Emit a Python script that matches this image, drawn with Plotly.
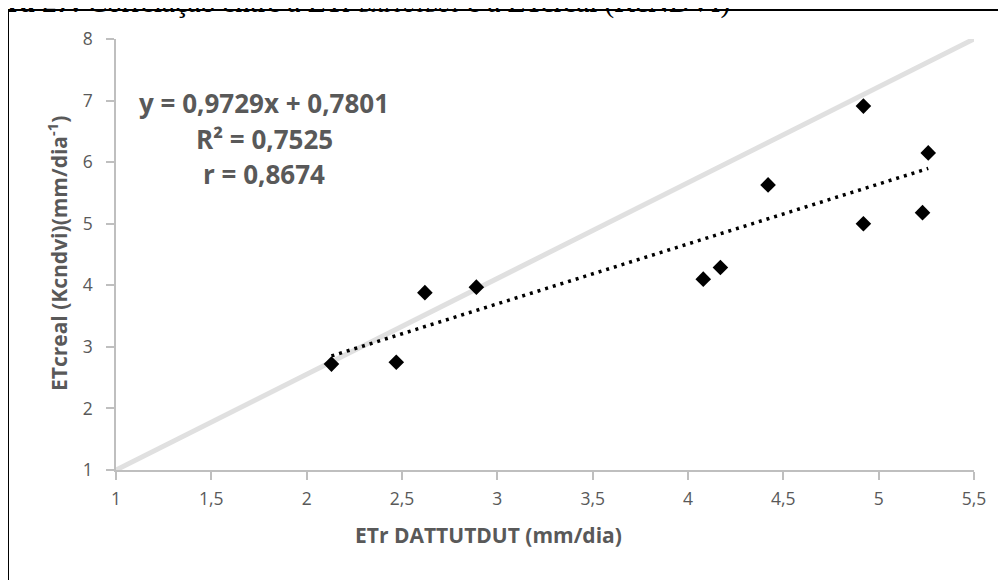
import plotly.graph_objects as go

# ---- data ----
etr_dattutdut = [2.13, 2.47, 2.62, 2.89, 4.08, 4.17, 4.42, 4.92, 4.92, 5.26, 5.23]
etc_real = [2.72, 2.75, 3.88, 3.97, 4.10, 4.29, 5.63, 6.91, 5.00, 6.15, 5.18]
trend_slope = 0.9729
trend_intercept = 0.7801
diag_x = [1, 5.5]
diag_y = [1, 8]
x_ticks = [1, 1.5, 2, 2.5, 3, 3.5, 4, 4.5, 5, 5.5]
y_ticks = [1, 2, 3, 4, 5, 6, 7, 8]
eq_lines = ["y = 0,9729x + 0,7801", "R² = 0,7525", "r = 0,8674"]

# ---- geometry (reference pixel positions; page body adds an 8px offset) ----
OFF = 8
PL, PR, PT, PB = 116, 974, 39, 470      # plot area in window pixels
PW, PH = PR - PL, PB - PT
W, H = 1006 - OFF, 580 - OFF


def px(xpix):
    return (xpix - PL) / PW


def py(ypix):
    return (PB - ypix) / PH


FONT = "Open Sans"
GRAY = "#595959"
AXC = "#bfbfbf"

tx = [min(etr_dattutdut), max(etr_dattutdut)]
ty = [trend_slope * v + trend_intercept for v in tx]

fig = go.Figure()
fig.add_trace(go.Scatter(x=diag_x, y=diag_y, mode="lines",
                         line=dict(color="#e0e0e0", width=5),
                         hoverinfo="skip", showlegend=False))
fig.add_trace(go.Scatter(x=tx, y=ty, mode="lines",
                         line=dict(color="black", width=3.5, dash="3px,5px"),
                         showlegend=False))
fig.add_trace(go.Scatter(x=etr_dattutdut, y=etc_real, mode="markers",
                         marker=dict(symbol="diamond", size=12, color="black"),
                         showlegend=False, cliponaxis=False))

fig.update_xaxes(range=[1, 5.5], tickvals=x_ticks, showgrid=False, zeroline=False,
                 showline=True, linecolor=AXC, linewidth=1.5,
                 ticks="outside", ticklen=8, tickcolor=AXC, tickwidth=1.5,
                 tickfont=dict(family=FONT, size=17.5, color=GRAY),
                 ticklabelstandoff=4)
fig.update_yaxes(range=[1, 8], tickvals=y_ticks, showgrid=False, zeroline=False,
                 showline=True, linecolor=AXC, linewidth=1.5,
                 ticks="outside", ticklen=8, tickcolor=AXC, tickwidth=1.5,
                 tickfont=dict(family=FONT, size=17.5, color=GRAY),
                 ticklabelstandoff=10)

annotations = []
for line, ypix in zip(eq_lines, [103, 139, 174]):
    annotations.append(dict(text="<b>%s</b>" % line, x=px(264), y=py(ypix),
                            xref="paper", yref="paper", xanchor="center", yanchor="middle",
                            showarrow=False, font=dict(family=FONT, size=26, color=GRAY)))
annotations.append(dict(text="<b>ETr DATTUTDUT (mm/dia)</b>", x=px(488), y=py(535),
                        xref="paper", yref="paper", xanchor="center", yanchor="middle",
                        showarrow=False, font=dict(family=FONT, size=21, color=GRAY)))
annotations.append(dict(text="<b>ETcreal (Kcndvi)(mm/dia<sup>-1</sup>)</b>", x=px(57), y=py(254),
                        xref="paper", yref="paper", xanchor="center", yanchor="middle",
                        textangle=-90, showarrow=False,
                        font=dict(family=FONT, size=21, color=GRAY)))
annotations.append(dict(text="<b>Figura 27:</b> Correlação entre a ETr "
                             "<span style=\"font-size:17px\">DATTUTDUT</span> e a ETcreal (KcNDVI)",
                        x=px(-51), y=py(21), xref="paper", yref="paper",
                        xanchor="left", yanchor="bottom", showarrow=False,
                        font=dict(family="Liberation Serif", size=29, color="black")))

shapes = [dict(type="rect", xref="paper", yref="paper",
               x0=px(8), x1=px(1012), y0=py(600), y1=py(10),
               line=dict(color="black", width=2), fillcolor="rgba(0,0,0,0)", layer="above")]

fig.update_layout(width=W, height=H,
                  margin=dict(l=PL - OFF, r=W - (PR - OFF), t=PT - OFF, b=H - (PB - OFF), pad=0),
                  paper_bgcolor="white", plot_bgcolor="white",
                  separators=", ", annotations=annotations, shapes=shapes,
                  showlegend=False)

fig.write_html("out.html")
